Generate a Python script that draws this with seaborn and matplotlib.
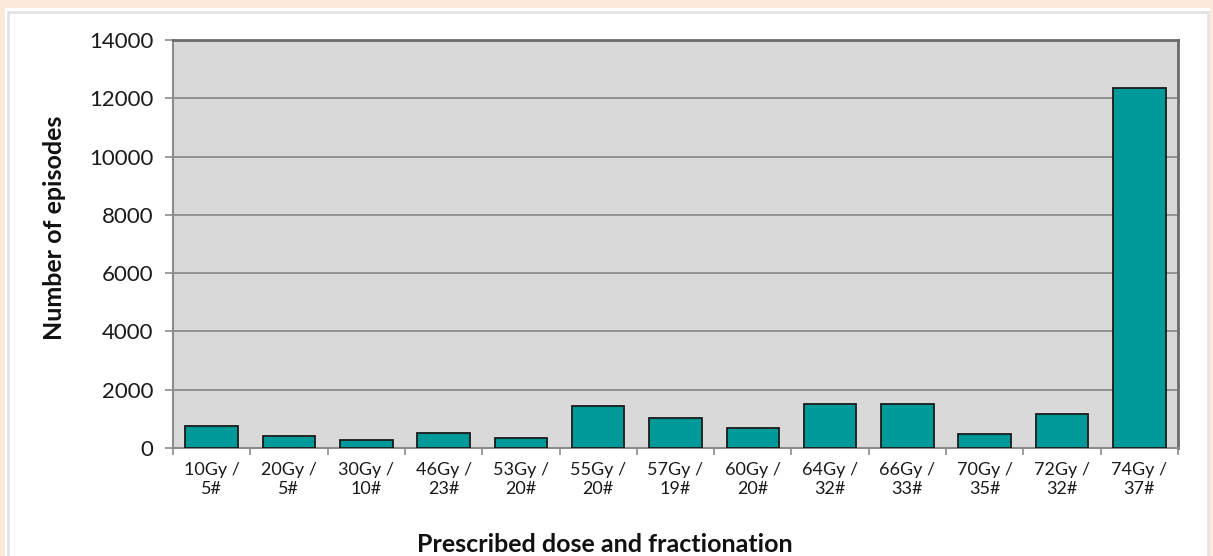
import matplotlib
matplotlib.use("Agg")
import matplotlib.pyplot as plt
from matplotlib.patches import Rectangle
import seaborn as sns
import pandas as pd

# Episode counts per prescription
doses = ["10Gy /\n5#", "20Gy /\n5#", "30Gy /\n10#", "46Gy /\n23#", "53Gy /\n20#",
         "55Gy /\n20#", "57Gy /\n19#", "60Gy /\n20#", "64Gy /\n32#", "66Gy /\n33#",
         "70Gy /\n35#", "72Gy /\n32#", "74Gy /\n37#"]
episodes = [750, 400, 280, 500, 345, 1440, 1040, 680, 1510, 1510, 490, 1170, 12350]
y_ticks = [0, 2000, 4000, 6000, 8000, 10000, 12000, 14000]

df = pd.DataFrame({"dose": doses, "episodes": episodes})

sns.set_theme(style="white")
plt.rcParams["font.family"] = ["Lato", "DejaVu Sans"]

fig = plt.figure(figsize=(12.13, 5.56), dpi=100)
fig.patch.set_facecolor("#fde9db")

# white panel with thin grey frame, kept behind the axes
panel = Rectangle((5 / 1213, 0), (1210 - 5) / 1213, 1 - 8 / 556,
                  transform=fig.transFigure, facecolor="white",
                  edgecolor="none", zorder=-2)
fig.patches.append(panel)
frame = Rectangle((8 / 1213, -0.01), (1208 - 8) / 1213, 1 - 12 / 556 + 0.01,
                  transform=fig.transFigure, facecolor="none",
                  edgecolor="#e3e3e3", linewidth=2, zorder=-1)
fig.patches.append(frame)

ax = fig.add_axes([173 / 1213, 1 - 448 / 556, (1178 - 173) / 1213, (448 - 40) / 556])
ax.set_facecolor("#d9d9d9")

sns.barplot(data=df, x="dose", y="episodes", color="#009999", saturation=1,
            width=0.68, edgecolor="#1a1a1a", linewidth=1.3, ax=ax, zorder=3)

ax.set_ylim(0, 14000)
ax.set_xlim(-0.5, len(doses) - 0.5)
ax.set_yticks(y_ticks)
ax.set_yticklabels([str(v) for v in y_ticks], fontsize=16, color="#1a1a1a")
ax.yaxis.grid(True, color="#858585", linewidth=1.2, zorder=1)
ax.set_axisbelow(True)

# category tick marks sit between the bars
ax.set_xticks([i + 0.5 for i in range(-1, len(doses))], minor=True)
ax.tick_params(axis="x", which="minor", length=5, width=1.2, color="#8c8c8c", bottom=True)
ax.tick_params(axis="x", which="major", length=0, pad=10)
ax.tick_params(axis="y", length=6, width=1.2, color="#8c8c8c", left=True, pad=8)
ax.set_xticks(range(len(doses)))
ax.set_xticklabels(doses, fontsize=13, color="#1a1a1a", linespacing=1.25,
                   multialignment="center")

for side in ["left", "bottom"]:
    ax.spines[side].set_color("#8c8c8c")
    ax.spines[side].set_linewidth(1.5)
for side in ["top", "right"]:
    ax.spines[side].set_color("#6b6b6b")
    ax.spines[side].set_linewidth(2)

ax.set_xlabel("")
ax.set_ylabel("")
fig.text(55 / 1213, 1 - 228 / 556, "Number of episodes", rotation=90,
         ha="center", va="center", fontsize=18, fontweight="bold", color="#111111")
fig.text(605 / 1213, 1 - 545 / 556, "Prescribed dose and fractionation",
         ha="center", va="center", fontsize=18, fontweight="bold", color="#111111")

fig.savefig("out.png", dpi=100, facecolor=fig.get_facecolor())
